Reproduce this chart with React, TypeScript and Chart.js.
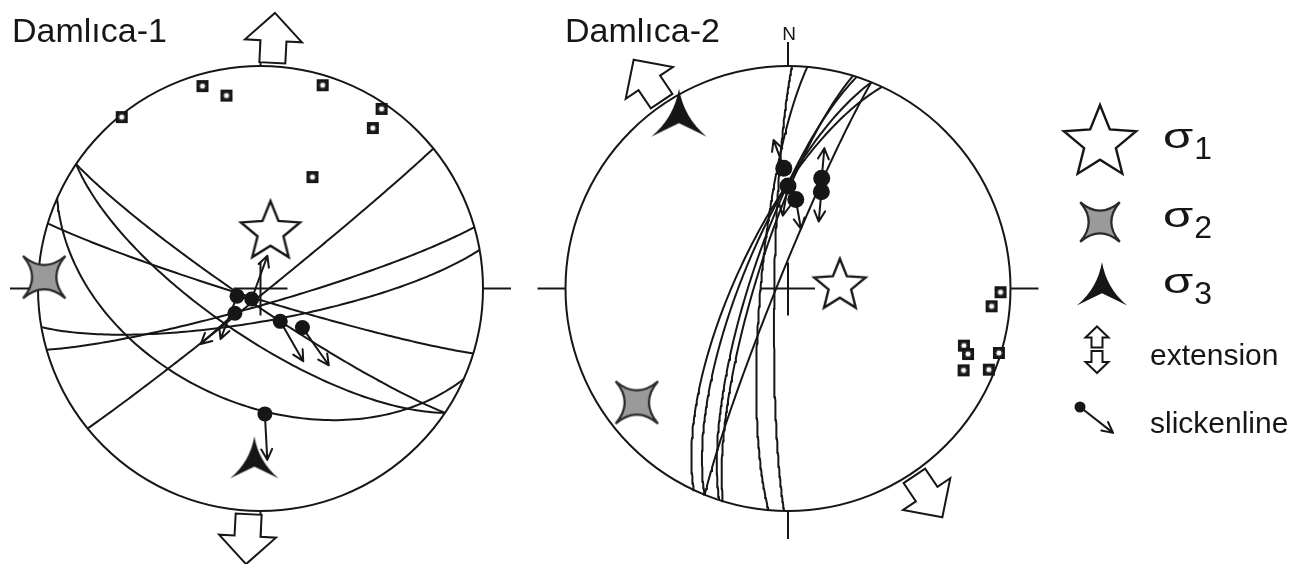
import React, { useEffect, useRef } from "react";
import { Chart, registerables } from "chart.js";

Chart.register(...registerables);

// ---------- data ----------
const siteNames = ["Damlıca-1", "Damlıca-2"];

// Fault planes: strike / dip (right-hand rule), lower-hemisphere equal-area net
const site1Strikes = [124, 124, 107, 114, 51, 74, 80];
const site1Dips = [84, 72, 86, 47, 88, 84, 78];
const site2Strikes = [181, 185, 205, 202, 202, 198, 197];
const site2Dips = [85, 80, 71, 73, 86, 76, 78];

// Slickenlines: trend / plunge of the striation and azimuth of the slip sense
const site1SlickTrends = [252, 220, 226, 149, 133, 178];
const site1SlickPlunges = [81, 85, 77, 76, 69, 43];
const site1SlipAzimuths = [201, 20, 228, 150, 145, 177];
const site2SlickTrends = [358, 0, 5, 17, 19];
const site2SlickPlunges = [45, 52, 57, 47, 52];
const site2SlipAzimuths = [340, 190, 170, 5, 185];

// Poles (trend / plunge)
const site1PoleTrends = [344, 350, 17, 34, 35, 321, 25];
const site1PolePlunges = [6, 13, 5, 3, 13, 1, 44];
const site2PoleTrends = [91, 95, 108, 110, 107, 115, 112];
const site2PolePlunges = [5, 9, 18, 15, 1, 14, 3];

// Principal stress axes σ1, σ2, σ3 (trend / plunge)
const site1SigmaTrends = [10, 273, 182];
const site1SigmaPlunges = [69, 3, 22];
const site2SigmaTrends = [87, 233, 327];
const site2SigmaPlunges = [71, 16, 11];

// Extension direction (trend)
const extensionTrends = [3, 326];

const sigmaSubscripts = ["1", "2", "3"];
const legendLabels = ["extension", "slickenline"];

// ---------- layout / style ----------
const CANVAS_W = 1305;
const CANVAS_H = 564;
const NET_R = 222.5;
const NET_CY = 288.5;
const NET_CX = [260.5, 788];
const X_MIN = -NET_CX[0] / NET_R;
const X_MAX = (CANVAS_W - NET_CX[0]) / NET_R;
const Y_MIN = -(CANVAS_H - NET_CY) / NET_R;
const Y_MAX = NET_CY / NET_R;
const NET_OFFSETS = NET_CX.map((cx) => (cx - NET_CX[0]) / NET_R);
const TITLE_X = [12, 565];
const NORTH_LABEL = [false, true];
const SLIP_LEN = [46, 30];
const DOT_R = [7.5, 8.5];
const SIGMA1_R = [31, 27];
const SIGMA2_R = [30, 30];
const SIGMA3_R = [28, 32];
const EXT_DIST = 251;
const INK = "#161616";
const FONT = '"Liberation Sans", Arial, Helvetica, sans-serif';

const sites = [
  {
    name: siteNames[0],
    strikes: site1Strikes,
    dips: site1Dips,
    slickTrends: site1SlickTrends,
    slickPlunges: site1SlickPlunges,
    slipAz: site1SlipAzimuths,
    poleTrends: site1PoleTrends,
    polePlunges: site1PolePlunges,
    sigmaTrends: site1SigmaTrends,
    sigmaPlunges: site1SigmaPlunges,
    extension: extensionTrends[0],
  },
  {
    name: siteNames[1],
    strikes: site2Strikes,
    dips: site2Dips,
    slickTrends: site2SlickTrends,
    slickPlunges: site2SlickPlunges,
    slipAz: site2SlipAzimuths,
    poleTrends: site2PoleTrends,
    polePlunges: site2PolePlunges,
    sigmaTrends: site2SigmaTrends,
    sigmaPlunges: site2SigmaPlunges,
    extension: extensionTrends[1],
  },
];

// ---------- projection ----------
const deg = (a: number) => (a * Math.PI) / 180;

// Lambert equal-area, lower hemisphere; returns net units (primitive radius = 1)
function projectLine(trend: number, plunge: number): [number, number] {
  const r = Math.SQRT2 * Math.sin(deg(90 - plunge) / 2);
  return [r * Math.sin(deg(trend)), r * Math.cos(deg(trend))];
}

function greatCircle(strike: number, dip: number, ox: number) {
  const s = deg(strike);
  const d = deg(dip);
  const sv = [Math.sin(s), Math.cos(s), 0];
  const dv = [Math.cos(s) * Math.cos(d), -Math.sin(s) * Math.cos(d), Math.sin(d)];
  const pts: { x: number; y: number }[] = [];
  for (let a = 0; a <= 180; a += 1.5) {
    const ca = Math.cos(deg(a));
    const sa = Math.sin(deg(a));
    const e = ca * sv[0] + sa * dv[0];
    const n = ca * sv[1] + sa * dv[1];
    const dn = Math.min(1, Math.max(0, sa * dv[2]));
    const plunge = (Math.asin(dn) * 180) / Math.PI;
    const trend = (Math.atan2(e, n) * 180) / Math.PI;
    const [x, y] = projectLine(trend, plunge);
    pts.push({ x: ox + x, y });
  }
  return pts;
}

// ---------- marker images ----------
function makeCanvas(half: number, draw: (c: CanvasRenderingContext2D) => void) {
  const size = 2 * Math.ceil(half);
  const cv = document.createElement("canvas");
  cv.width = size;
  cv.height = size;
  const c = cv.getContext("2d")!;
  c.translate(size / 2, size / 2);
  draw(c);
  return cv;
}

function starFive(R: number) {
  return makeCanvas(R + 8, (c) => {
    c.beginPath();
    for (let i = 0; i < 10; i++) {
      const r = i % 2 === 0 ? R : R * 0.44;
      const a = deg(-90 + i * 36);
      const x = r * Math.cos(a);
      const y = r * Math.sin(a);
      if (i === 0) c.moveTo(x, y);
      else c.lineTo(x, y);
    }
    c.closePath();
    c.fillStyle = "#ffffff";
    c.fill();
    c.lineWidth = 2.4;
    c.lineJoin = "miter";
    c.strokeStyle = INK;
    c.stroke();
  });
}

function starFour(R: number) {
  return makeCanvas(R + 6, (c) => {
    c.beginPath();
    for (let i = 0; i < 4; i++) {
      const a = deg(-135 + 90 * i);
      const b = deg(-135 + 90 * (i + 1));
      const m = deg(-90 + 90 * i);
      if (i === 0) c.moveTo(R * Math.cos(a), R * Math.sin(a));
      c.quadraticCurveTo(0.1 * R * Math.cos(m), 0.1 * R * Math.sin(m), R * Math.cos(b), R * Math.sin(b));
    }
    c.closePath();
    c.fillStyle = "#9a9a9a";
    c.fill();
    c.lineWidth = 2.2;
    c.lineJoin = "miter";
    c.strokeStyle = "#2a2a2a";
    c.stroke();
  });
}

function starThree(R: number) {
  return makeCanvas(R + 4, (c) => {
    const top = [0, -R];
    const br = [R * Math.cos(deg(30)), R * Math.sin(deg(30))];
    const bl = [-br[0], br[1]];
    const k = 0.18 * R;
    c.beginPath();
    c.moveTo(top[0], top[1]);
    c.quadraticCurveTo(k * Math.cos(deg(-30)), k * Math.sin(deg(-30)), br[0], br[1]);
    c.quadraticCurveTo(0.25 * R, 0.2 * R, 0, 0.08 * R);
    c.quadraticCurveTo(-0.25 * R, 0.2 * R, bl[0], bl[1]);
    c.quadraticCurveTo(k * Math.cos(deg(210)), k * Math.sin(deg(210)), top[0], top[1]);
    c.closePath();
    c.fillStyle = INK;
    c.fill();
  });
}

function poleMark() {
  return makeCanvas(7, (c) => {
    c.fillStyle = INK;
    c.fillRect(-6, -6, 12, 12);
    c.beginPath();
    for (let i = 0; i < 16; i++) {
      const r = i % 2 === 0 ? 3.8 : 1.9;
      const a = deg(i * 22.5);
      if (i === 0) c.moveTo(r * Math.cos(a), r * Math.sin(a));
      else c.lineTo(r * Math.cos(a), r * Math.sin(a));
    }
    c.closePath();
    c.fillStyle = "#ffffff";
    c.fill();
  });
}

// ---------- drawing helpers ----------
function slipArrow(ctx: CanvasRenderingContext2D, x0: number, y0: number, az: number, len: number) {
  const dx = Math.sin(deg(az));
  const dy = -Math.cos(deg(az));
  const x1 = x0 + dx * len;
  const y1 = y0 + dy * len;
  ctx.save();
  ctx.strokeStyle = INK;
  ctx.lineWidth = 2;
  ctx.lineCap = "round";
  ctx.beginPath();
  ctx.moveTo(x0, y0);
  ctx.lineTo(x1, y1);
  for (const s of [-1, 1]) {
    const a = deg(az + 180 + s * 27);
    ctx.moveTo(x1, y1);
    ctx.lineTo(x1 + Math.sin(a) * 12, y1 - Math.cos(a) * 12);
  }
  ctx.stroke();
  ctx.restore();
}

function blockArrow(
  ctx: CanvasRenderingContext2D,
  cx: number,
  cy: number,
  az: number,
  L: number,
  headL: number,
  headHW: number,
  shaftHW: number,
  lw: number
) {
  ctx.save();
  ctx.translate(cx, cy);
  ctx.rotate(deg(az));
  const top = -L / 2;
  const hb = top + headL;
  const bot = L / 2;
  ctx.beginPath();
  ctx.moveTo(0, top);
  ctx.lineTo(headHW, hb);
  ctx.lineTo(shaftHW, hb);
  ctx.lineTo(shaftHW, bot);
  ctx.lineTo(-shaftHW, bot);
  ctx.lineTo(-shaftHW, hb);
  ctx.lineTo(-headHW, hb);
  ctx.closePath();
  ctx.fillStyle = "#ffffff";
  ctx.fill();
  ctx.lineWidth = lw;
  ctx.lineJoin = "miter";
  ctx.strokeStyle = INK;
  ctx.stroke();
  ctx.restore();
}

function line(ctx: CanvasRenderingContext2D, x0: number, y0: number, x1: number, y1: number) {
  ctx.beginPath();
  ctx.moveTo(x0, y0);
  ctx.lineTo(x1, y1);
  ctx.stroke();
}

function sigmaLabel(ctx: CanvasRenderingContext2D, x: number, baseline: number, sub: string) {
  ctx.save();
  ctx.fillStyle = INK;
  ctx.textAlign = "left";
  ctx.textBaseline = "alphabetic";
  ctx.font = `35px ${FONT}`;
  ctx.translate(x, baseline);
  ctx.scale(1.4, 1);
  ctx.fillText("σ", 0, 0);
  const w = ctx.measureText("σ").width * 1.4;
  ctx.restore();
  ctx.save();
  ctx.fillStyle = INK;
  ctx.font = `32px ${FONT}`;
  ctx.fillText(sub, x + w + 1, baseline + 11);
  ctx.restore();
}

export default function App() {
  const ref = useRef<HTMLCanvasElement>(null);

  useEffect(() => {
    const sigmaImgs = sites.map((_, k) => [starFive(SIGMA1_R[k]), starFour(SIGMA2_R[k]), starThree(SIGMA3_R[k])]);
    const legendImgs = [starFive(38), starFour(28), starThree(29)];
    const pole = poleMark();

    const datasets: any[] = [];
    sites.forEach((site, k) => {
      const ox = NET_OFFSETS[k];
      site.strikes.forEach((s, i) => {
        datasets.push({
          data: greatCircle(s, site.dips[i], ox),
          showLine: true,
          borderColor: INK,
          borderWidth: 2,
          pointRadius: 0,
          fill: false,
          order: 10,
        });
      });
      datasets.push({
        data: site.poleTrends.map((t, i) => {
          const [x, y] = projectLine(t, site.polePlunges[i]);
          return { x: ox + x, y };
        }),
        pointStyle: pole,
        pointRadius: 6,
        showLine: false,
        order: 6,
      });
      datasets.push({
        data: site.slickTrends.map((t, i) => {
          const [x, y] = projectLine(t, site.slickPlunges[i]);
          return { x: ox + x, y };
        }),
        pointStyle: "circle",
        pointRadius: DOT_R[k],
        pointBackgroundColor: INK,
        pointBorderWidth: 0,
        showLine: false,
        order: 5,
      });
      site.sigmaTrends.forEach((t, i) => {
        const [x, y] = projectLine(t, site.sigmaPlunges[i]);
        datasets.push({
          data: [{ x: ox + x, y }],
          pointStyle: sigmaImgs[k][i],
          pointRadius: 20,
          showLine: false,
          order: 1,
        });
      });
    });

    const framePlugin = {
      id: "netFrame",
      beforeDatasetsDraw(chart: any) {
        const ctx: CanvasRenderingContext2D = chart.ctx;
        const xs = chart.scales.x;
        const ys = chart.scales.y;
        const unit = xs.getPixelForValue(1) - xs.getPixelForValue(0);
        ctx.save();
        ctx.fillStyle = "#ffffff";
        ctx.fillRect(0, 0, chart.width, chart.height);
        ctx.strokeStyle = INK;
        ctx.lineWidth = 2;
        sites.forEach((site, k) => {
          const cx = xs.getPixelForValue(NET_OFFSETS[k]);
          const cy = ys.getPixelForValue(0);
          const R = unit;
          ctx.beginPath();
          ctx.arc(cx, cy, R, 0, Math.PI * 2);
          ctx.stroke();
          line(ctx, cx - R - 28, cy, cx - R, cy);
          line(ctx, cx + R, cy, cx + R + 28, cy);
          line(ctx, cx, cy - R - 24, cx, cy - R);
          line(ctx, cx, cy + R, cx, cy + R + 28);
          line(ctx, cx - 27, cy, cx + 27, cy);
          line(ctx, cx, cy - 26, cx, cy + 27);
          ctx.fillStyle = INK;
          ctx.textAlign = "left";
          ctx.textBaseline = "alphabetic";
          ctx.font = `34px ${FONT}`;
          ctx.fillText(site.name, TITLE_X[k], 42);
          if (NORTH_LABEL[k]) {
            ctx.font = `19px ${FONT}`;
            ctx.textAlign = "center";
            ctx.fillText("N", cx + 1, cy - R - 26);
          }
        });
        ctx.restore();
      },
    };

    const overlayPlugin = {
      id: "netOverlay",
      afterDatasetsDraw(chart: any) {
        const ctx: CanvasRenderingContext2D = chart.ctx;
        const xs = chart.scales.x;
        const ys = chart.scales.y;
        sites.forEach((site, k) => {
          const ox = NET_OFFSETS[k];
          site.slickTrends.forEach((t, i) => {
            const [x, y] = projectLine(t, site.slickPlunges[i]);
            slipArrow(ctx, xs.getPixelForValue(ox + x), ys.getPixelForValue(y), site.slipAz[i], SLIP_LEN[k]);
          });
          const cx = xs.getPixelForValue(ox);
          const cy = ys.getPixelForValue(0);
          [site.extension, site.extension + 180].forEach((az) => {
            blockArrow(
              ctx,
              cx + EXT_DIST * Math.sin(deg(az)),
              cy - EXT_DIST * Math.cos(deg(az)),
              az,
              50,
              28,
              28.5,
              13,
              2
            );
          });
        });

        // legend
        const lx = 1100;
        const ly = [143, 222, 291];
        const textBase = [148, 227, 293];
        legendImgs.forEach((img, i) => {
          ctx.drawImage(img, lx + (i === 2 ? 2 : 0) - img.width / 2, ly[i] - img.height / 2);
          sigmaLabel(ctx, 1163, textBase[i], sigmaSubscripts[i]);
        });
        blockArrow(ctx, 1097, 337, 0, 21, 11, 11.5, 5.5, 2);
        blockArrow(ctx, 1097, 362, 180, 22, 11, 11.5, 5.5, 2);
        ctx.save();
        ctx.fillStyle = INK;
        ctx.beginPath();
        ctx.arc(1080, 407, 5.5, 0, Math.PI * 2);
        ctx.fill();
        ctx.restore();
        slipArrow(ctx, 1080, 407, 128, 42);
        ctx.save();
        ctx.fillStyle = INK;
        ctx.font = `30px ${FONT}`;
        ctx.textAlign = "left";
        ctx.textBaseline = "alphabetic";
        ctx.fillText(legendLabels[0], 1150, 365);
        ctx.fillText(legendLabels[1], 1150, 433);
        ctx.restore();
      },
    };

    const chart = new Chart(ref.current!, {
      type: "scatter",
      data: { datasets },
      options: {
        animation: false,
        responsive: false,
        events: [],
        layout: { padding: 0, autoPadding: false },
        plugins: { legend: { display: false }, tooltip: { enabled: false } },
        scales: {
          x: { type: "linear", min: X_MIN, max: X_MAX, display: false },
          y: { type: "linear", min: Y_MIN, max: Y_MAX, display: false },
        },
      },
      plugins: [framePlugin, overlayPlugin],
    } as any);
    return () => chart.destroy();
  }, []);

  return (
    <div style={{ position: "fixed", left: 0, top: 0, width: CANVAS_W, height: CANVAS_H, background: "#fff" }}>
      <canvas ref={ref} width={CANVAS_W} height={CANVAS_H} style={{ display: "block" }} />
    </div>
  );
}
